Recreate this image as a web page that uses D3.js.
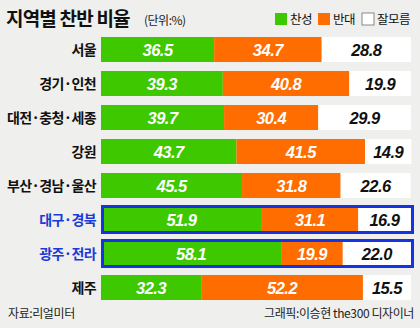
<!DOCTYPE html>
<html><head><meta charset="utf-8">
<script src="https://cdn.jsdelivr.net/npm/d3@7"></script>
<style>
html,body{margin:0;padding:0;background:#efefed;}
svg{display:block;}
</style></head>
<body>
<svg id="c" width="420" height="328"></svg>
<script>
const regions = ["서울","경기·인천","대전·충청·세종","강원","부산·경남·울산","대구·경북","광주·전라","제주"];
const favor   = [36.5, 39.3, 39.7, 43.7, 45.5, 51.9, 58.1, 32.3];
const oppose  = [34.7, 40.8, 30.4, 41.5, 31.8, 31.1, 19.9, 52.2];
const unknown = [28.8, 19.9, 29.9, 14.9, 22.6, 16.9, 22.0, 15.5];
const highlighted = ["대구·경북","광주·전라"];
const seriesNames = ["찬성","반대","잘모름"];
const colors = ["#3dc800","#ff6d00","#ffffff"];

const svg = d3.select("#c");
const KR = "'Noto Sans CJK KR', 'Noto Sans', sans-serif";
const NUM = "'Liberation Sans Narrow', 'Liberation Sans', Arial, sans-serif";

const x = d3.scaleLinear().domain([0,100]).range([101,411]);
const y = d3.scaleBand().domain(regions).range([37-4.5, 37-4.5+34*8]).paddingInner(9/34).paddingOuter(9/68);
const bh = y.bandwidth();

// title
svg.append("text").attr("x",6).attr("y",26).attr("font-family",KR).attr("font-weight","bold")
  .attr("font-size",19).attr("letter-spacing",-0.8).attr("fill","#111").text("지역별 찬반 비율");
svg.append("text").attr("x",144).attr("y",25).attr("font-family",KR).attr("letter-spacing",-0.5)
  .attr("font-size",12).attr("fill","#222").text("(단위:%)");

// legend
const legX = [275, 318, 362];
seriesNames.forEach((s,i)=>{
  svg.append("rect").attr("x",legX[i]).attr("y",13).attr("width",12).attr("height",12)
    .attr("fill",colors[i]).attr("stroke", i===2?"#888":"none").attr("stroke-width",1);
  svg.append("text").attr("x",legX[i]+15).attr("y",24).attr("font-family",KR).attr("letter-spacing",-0.5)
    .attr("font-size",12.5).attr("fill","#111").text(s);
});

const data = regions.map((r,i)=>({region:r, vals:[favor[i],oppose[i],unknown[i]]}));

const rows = svg.selectAll("g.row").data(data).join("g").attr("class","row");
rows.each(function(d){
  const g = d3.select(this);
  let acc = 0;
  const top = y(d.region);
  d.vals.forEach((v,j)=>{
    const xs = x(acc), xe = x(acc+v);
    g.append("rect").attr("x",xs).attr("y",top).attr("width",xe-xs).attr("height",bh).attr("fill",colors[j]);
    g.append("text").attr("x",(xs+xe)/2).attr("y",top+bh/2+6).attr("text-anchor","middle")
      .attr("font-family",NUM).attr("font-weight","bold").attr("font-style","italic")
      .attr("font-size",16.5).attr("letter-spacing",-0.5).attr("fill", j===2?"#111":"#fff").text(v.toFixed(1));
    acc += v;
  });
  const hl = highlighted.includes(d.region);
  if(hl){
    g.append("rect").attr("x",x(0)+1.5).attr("y",top-0.5).attr("width",x(100)-x(0)).attr("height",bh+1)
      .attr("fill","none").attr("stroke","#1633e0").attr("stroke-width",3);
  }
  g.append("text").attr("x",96).attr("y",top+bh/2+5.5).attr("text-anchor","end")
    .attr("font-family",KR).attr("font-weight","bold").attr("font-size",14).attr("letter-spacing",-0.6)
    .attr("fill", hl?"#1a3ad8":"#111").text(d.region);
});

// footer
svg.append("text").attr("x",8).attr("y",318).attr("font-family",KR).attr("font-size",12).attr("letter-spacing",-0.4)
  .attr("fill","#222").text("자료:리얼미터");
svg.append("text").attr("x",414).attr("y",318).attr("text-anchor","end").attr("font-family",KR).attr("font-size",12)
  .attr("letter-spacing",-0.4).attr("fill","#222").text("그래픽:이승현 the300 디자이너");
</script>
</body></html>
